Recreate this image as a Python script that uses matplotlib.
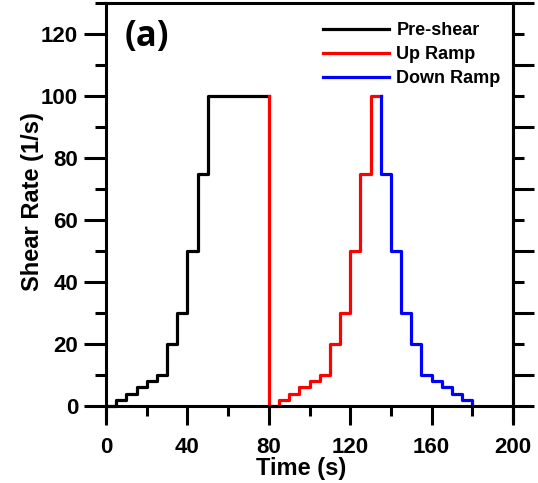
import matplotlib
matplotlib.use("Agg")
import matplotlib.pyplot as plt
import matplotlib.transforms as mtransforms
import numpy as np

plt.rcParams['font.family'] = ['Liberation Sans', 'DejaVu Sans']
plt.rcParams['font.weight'] = 'bold'

# Data (step profiles, 'post' steps)
pre_t = [0, 5, 10, 15, 20, 25, 30, 35, 40, 45, 50, 80]
pre_v = [0, 2, 4, 6, 8, 10, 20, 30, 50, 75, 100, 100]
up_t = [80, 80, 85, 90, 95, 100, 105, 110, 115, 120, 125, 130, 135]
up_v = [100, 0, 2, 4, 6, 8, 10, 20, 30, 50, 75, 100, 100]
down_t = [135, 135, 140, 145, 150, 155, 160, 165, 170, 175, 180]
down_v = [100, 75, 50, 30, 20, 10, 8, 6, 4, 2, 0]

xticks = [0, 40, 80, 120, 160, 200]
yticks = [0, 20, 40, 60, 80, 100, 120]

W, H = 538, 483
fig = plt.figure(figsize=(W/100, H/100), dpi=100)
L, R, T, B = 106, 513, 3, 420
ax = fig.add_axes([L/W, 1 - B/H, (R-L)/W, (B-T)/H])

lw = 2.3
ax.step(pre_t, pre_v, where='post', color='black', lw=lw, label='Pre-shear')
ax.step(up_t, up_v, where='post', color='#ff0000', lw=lw, label='Up Ramp')
ax.step(down_t, down_v, where='post', color='#0000ff', lw=lw, label='Down Ramp')

ax.set_xlim(0, 200)
ax.set_ylim(-4.5, 130)

for s in ax.spines.values():
    s.set_linewidth(2.2)
ax.spines['bottom'].set_position(('data', 0))
ax.spines['top'].set_visible(False)

ax.set_xticks(xticks)
ax.set_xticks(np.arange(20, 200, 40), minor=True)
ax.set_yticks(yticks)
ax.set_yticks(np.arange(10, 131, 20), minor=True)

ax.tick_params(axis='x', which='major', direction='out', length=14, width=2.2, labelsize=16, pad=8)
ax.tick_params(axis='x', which='minor', direction='out', length=7, width=2.2)
ax.tick_params(axis='y', which='major', direction='out', length=16, width=2.2, labelsize=16, pad=4)
ax.tick_params(axis='y', which='minor', direction='out', length=8, width=2.2)

# right axis: outward ticks
sec = ax.secondary_yaxis('right')
sec.set_yticks([0] + list(range(10, 131, 20)))
sec.set_yticks(list(range(20, 121, 20)), minor=True)
sec.tick_params(which='major', direction='out', length=15, width=2.2, labelright=False)
sec.tick_params(which='minor', direction='out', length=8, width=2.2)
sec.spines['right'].set_linewidth(2.2)

for lab in ax.get_xticklabels() + ax.get_yticklabels():
    lab.set_fontweight('bold')

# top frame line
trans = mtransforms.blended_transform_factory(ax.transAxes, ax.transData)
ax.plot([0, 1], [130, 130], transform=trans, color='black', lw=2.2, clip_on=False,
        solid_capstyle='projecting')

ax.set_xlabel('Time (s)', fontsize=17, fontweight='bold')
ax.xaxis.set_label_coords((301 - L) / (R - L), -(469 - 420) / (B - T))
ax.xaxis.label.set_va('center')
ax.set_ylabel('Shear Rate (1/s)', fontsize=17, fontweight='bold')
ax.yaxis.set_label_coords(-(106 - 33) / (R - L), (420 - 202) / (B - T))
ax.yaxis.label.set_va('center')

ax.text(0.045, 0.962, '(a)', transform=ax.transAxes, fontsize=25, fontweight='bold',
        va='top', ha='left', family=['Open Sans', 'DejaVu Sans'])

leg = ax.legend(loc='upper left', bbox_to_anchor=(323/W, 1 - 22/H), bbox_transform=fig.transFigure,
                frameon=False, handlelength=3.66, handletextpad=0.4,
                labelspacing=0.4, borderaxespad=0, borderpad=0,
                prop={'weight': 'bold', 'size': 13})

fig.savefig('out.png', dpi=100)
